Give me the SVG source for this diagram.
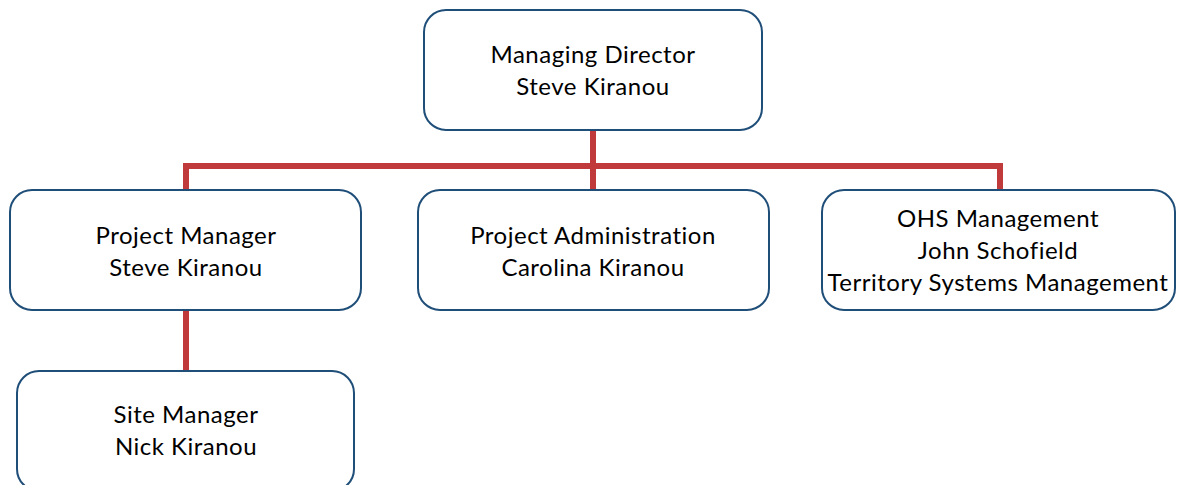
<svg xmlns="http://www.w3.org/2000/svg" width="1178" height="485" viewBox="0 0 1178 485">
<style>
.box{fill:#ffffff;stroke:#1F4E79;stroke-width:2}
.t{font-family:Lato,"Open Sans","Liberation Sans",sans-serif;font-size:24px;letter-spacing:0.5px;fill:#000;text-anchor:middle}
.c{stroke:#C0393B;stroke-width:6;fill:none}
</style>
<rect width="1178" height="485" fill="#ffffff"/>
<g id="connectors">
<path class="c" d="M593 130 V190"/>
<path class="c" d="M186 190 V166 H1000 V190"/>
<path class="c" d="M186 310 V371"/>
</g>
<g id="md">
<rect class="box" x="424" y="10" width="338" height="120" rx="22"/>
<text class="t" x="593" y="63">Managing Director</text>
<text class="t" x="593" y="95">Steve Kiranou</text>
</g>
<g id="pm">
<rect class="box" x="10" y="190" width="351" height="120" rx="22"/>
<text class="t" x="186" y="244">Project Manager</text>
<text class="t" x="186" y="276">Steve Kiranou</text>
</g>
<g id="pa">
<rect class="box" x="418" y="190" width="351" height="120" rx="22"/>
<text class="t" x="593" y="244">Project Administration</text>
<text class="t" x="593" y="276">Carolina Kiranou</text>
</g>
<g id="ohs">
<rect class="box" x="822" y="190" width="353" height="120" rx="22"/>
<text class="t" x="998" y="227">OHS Management</text>
<text class="t" x="998" y="259">John Schofield</text>
<text class="t" x="998" y="291">Territory Systems Management</text>
</g>
<g id="sm">
<rect class="box" x="17" y="371" width="337" height="120" rx="22"/>
<text class="t" x="186" y="423">Site Manager</text>
<text class="t" x="186" y="455">Nick Kiranou</text>
</g>
</svg>
